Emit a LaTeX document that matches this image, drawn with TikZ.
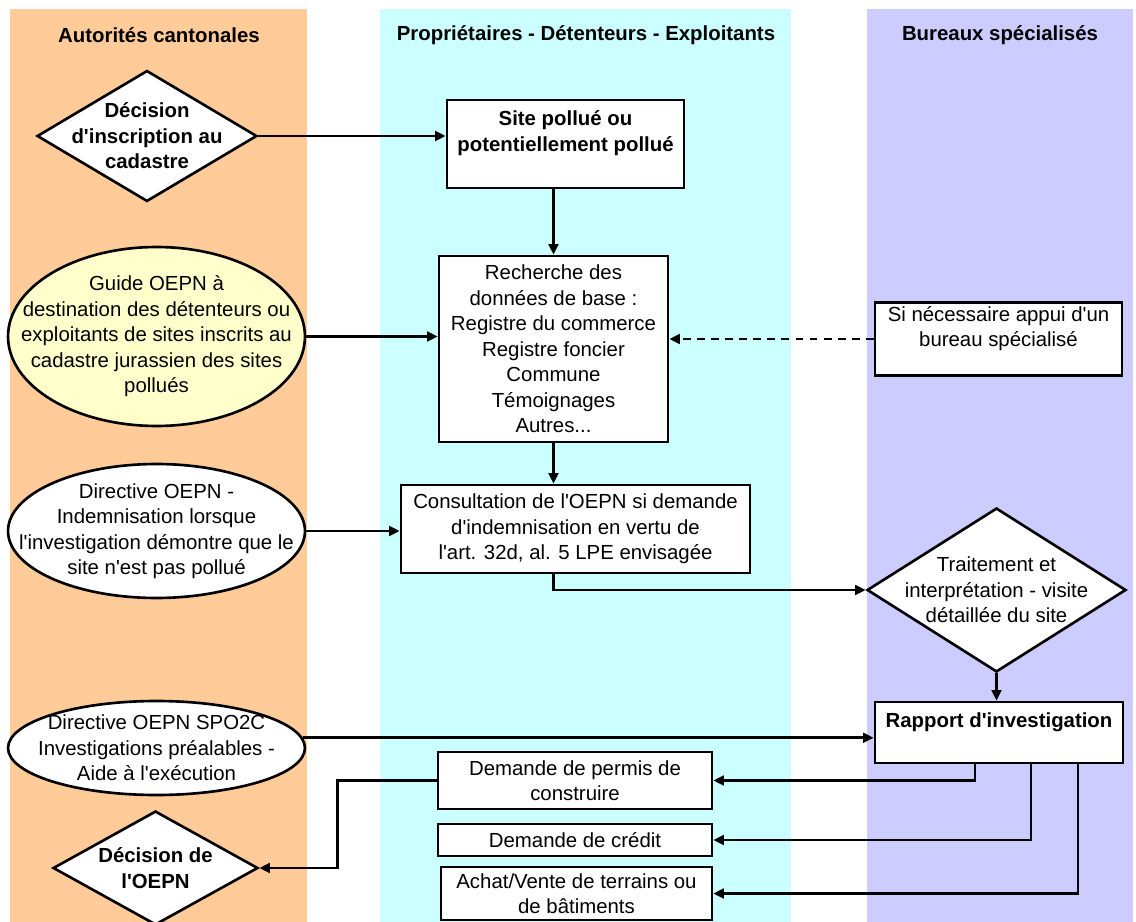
\documentclass[tikz,border=0pt]{standalone}
\usepackage{fontspec}
\setmainfont{Liberation Sans}[Ligatures=TeXOff]
\usepackage{tikz}
\usetikzlibrary{shapes.geometric, positioning, arrows.meta}
\definecolor{laneorange}{HTML}{FFCC99}
\definecolor{lanecyan}{HTML}{CCFFFF}
\definecolor{lanepurple}{HTML}{CCCCFF}
\definecolor{guideyellow}{HTML}{FFFFCC}
\newcommand{\flowfont}{\fontsize{11.6}{14.5}\selectfont}

\begin{document}
\begin{tikzpicture}[
        x=0.02cm, y=-0.02cm,
        >={Triangle[length=6pt,width=5.5pt]},
        every path/.style={line width=1.5pt},
        every node/.style={font=\flowfont},
        header/.style={font=\flowfont\bfseries},
        stepbox/.style={draw, fill=white, align=center, inner sep=2pt},
        decision/.style={diamond, draw, fill=white, inner sep=0pt},
        reference/.style={ellipse, draw, fill=white, inner sep=0pt}
    ]
    \useasboundingbox (0,0) rectangle (1136,922);

    % --- Lanes ---
    \fill[laneorange] (10,9) rectangle (307,922);
    \fill[lanecyan] (380,9) rectangle (791,922);
    \fill[lanepurple] (867,9) rectangle (1133,922);

    \node[header] (hdcant) at (159,35) {Autorités cantonales};
    \node[header] (hdprop) at (586,35) {Propriétaires - Détenteurs - Exploitants};
    \node[header] (hdbur) at (1000,35) {Bureaux spécialisés};

    % --- Autorites cantonales ---
    \node[decision, minimum width=4.4cm, minimum height=2.62cm,
        label={[align=center, font=\flowfont\bfseries]center:{Décision\\d'inscription au\\cadastre}}]
        (decinscr) at (147,136) {};
    \node[reference, fill=guideyellow, minimum width=5.94cm, minimum height=3.58cm,
        label={[align=center]center:{Guide OEPN à\\destination des détenteurs ou\\exploitants de sites inscrits au\\cadastre jurassien des sites\\pollués}}]
        (guide) at (156.5,336.5) {};
    \node[reference, minimum width=5.94cm, minimum height=2.68cm,
        label={[align=center]center:{Directive OEPN -\\Indemnisation lorsque\\l'investigation démontre que le\\site n'est pas pollué}}]
        (indem) at (156.5,531) {};
    \node[reference, minimum width=5.94cm, minimum height=1.88cm,
        label={[align=center]center:{Directive OEPN SPO2C\\Investigations préalables -\\Aide à l'exécution}}]
        (spo) at (156.5,748) {};
    \node[decision, minimum width=4.1cm, minimum height=2.28cm,
        label={[align=center, font=\flowfont\bfseries]center:{Décision de\\l'OEPN}}]
        (decoepn) at (155.5,868) {};

    % --- Proprietaires - Detenteurs - Exploitants ---
    \node[stepbox, font=\flowfont\bfseries, minimum width=4.74cm, minimum height=1.76cm]
        (sitepollue) at (565.5,144) {Site pollué ou\\potentiellement pollué\\~};
    \node[stepbox, minimum width=4.58cm, minimum height=3.72cm]
        (recherche) at (553.5,349) {Recherche des\\données de base :\\Registre du commerce\\Registre foncier\\Commune\\Témoignages\\Autres...};
    \node[stepbox, minimum width=6.98cm, minimum height=1.76cm]
        (consult) at (575.5,529) {Consultation de l'OEPN si demande\\d'indemnisation en vertu de\\l'art. 32d, al. 5 LPE envisagée};
    \node[stepbox, minimum width=5.48cm, minimum height=1.14cm]
        (permis) at (575,780.5) {Demande de permis de\\construire};
    \node[stepbox, minimum width=5.48cm, minimum height=0.64cm]
        (credit) at (575,840) {Demande de crédit};
    \node[stepbox, minimum width=5.42cm, minimum height=1.06cm]
        (achat) at (576.5,893.5) {Achat/Vente de terrains ou\\de bâtiments};

    % --- Bureaux specialises ---
    \node[stepbox, minimum width=4.94cm, minimum height=1.36cm]
        (appui) at (998.5,339) {Si nécessaire appui d'un\\bureau spécialisé\\~};
    \node[decision, minimum width=5.18cm, minimum height=3.28cm,
        label={[align=center]center:{Traitement et\\interprétation - visite\\détaillée du site}}]
        (traitement) at (996.5,590) {};
    \node[stepbox, font=\flowfont\bfseries, minimum width=4.96cm, minimum height=1.22cm]
        (rapport) at (999,732.5) {Rapport d'investigation\\~};

    % --- Connectors ---
    \draw[->] (decinscr.east) -- (decinscr.east -| sitepollue.west);
    \draw[->] (sitepollue.south -| recherche.north) -- (recherche.north);
    \draw[->] (guide.east) -- (guide.east -| recherche.west);
    \draw[->, dash pattern=on 4.5pt off 3.5pt] (appui.west) -- (appui.west -| recherche.east);
    \draw[->] (recherche.south) -- (recherche.south |- consult.north);
    \draw[->] (indem.east) -- (indem.east -| consult.west);
    \draw[->] (consult.south -| recherche.south) |- (traitement.west);
    \draw[->] (traitement.south) -- (traitement.south |- rapport.north);
    \draw[->] (spo.4) -- (spo.4 -| rapport.west);
    \draw[->] ([xshift=-0.48cm]rapport.south) |- (permis.east);
    \draw[->] ([xshift=0.64cm]rapport.south) |- (credit.east);
    \draw[->] ([xshift=1.58cm]rapport.south) |- (achat.east);
    \draw[->] (permis.west) -- ++(-1.98cm,0) |- (decoepn.east);

\end{tikzpicture}
\end{document}
